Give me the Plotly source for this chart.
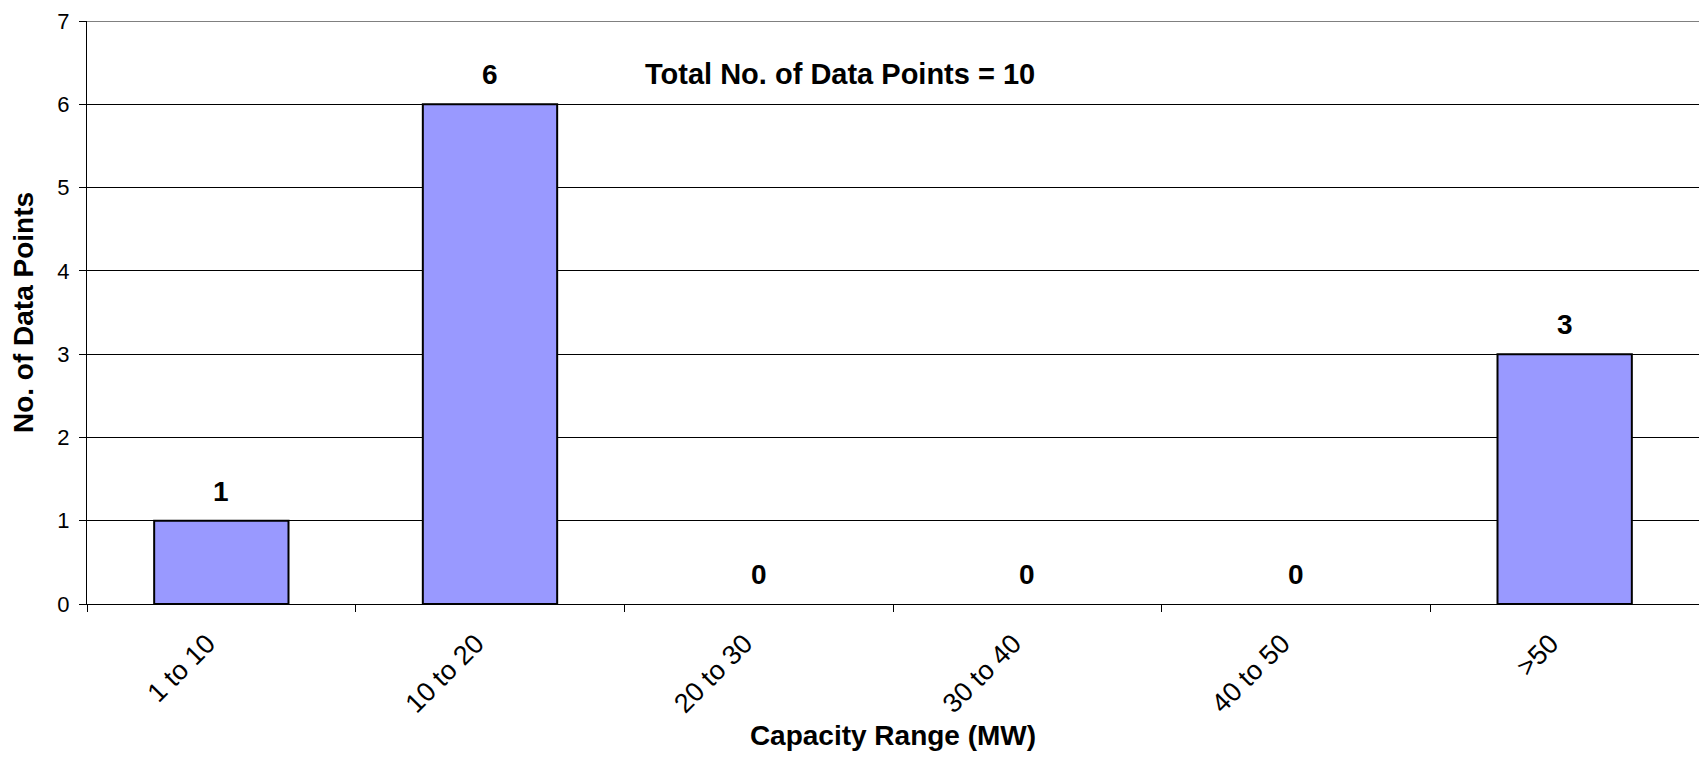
import plotly.graph_objects as go

categories = ['1 to 10', '10 to 20', '20 to 30', '30 to 40', '40 to 50', '>50']
counts = [1, 6, 0, 0, 0, 3]
total_text = 'Total No. of Data Points = ' + str(sum(counts))

FONT = 'Liberation Sans, Arial, sans-serif'

fig = go.Figure()

fig.add_trace(go.Bar(
    x=categories,
    y=counts,
    marker=dict(color='#9999FF',
                line=dict(color='black', width=[2 if v > 0 else 0 for v in counts])),
    hoverinfo='skip',
))

# value labels above the bars
for cat, val in zip(categories, counts):
    fig.add_annotation(
        x=cat, y=val, text=f'<b>{val}</b>',
        showarrow=False, yanchor='bottom', yshift=12,
        font=dict(family=FONT, size=28, color='black'),
    )

fig.add_annotation(
    x=0.467, xref='paper', y=6.36, yref='y',
    text=f'<b>{total_text}</b>', showarrow=False,
    font=dict(family=FONT, size=29, color='black'),
)

# plot-area top border
fig.add_shape(type='line', xref='paper', yref='y', x0=0, x1=1, y0=7, y1=7,
              line=dict(color='#808080', width=2), layer='above')

# page body has an 8px margin, so the figure is sized to fit the window
fig.update_layout(
    width=1691,
    height=743,
    margin=dict(l=79, r=0, t=13, b=147),
    paper_bgcolor='white',
    plot_bgcolor='white',
    bargap=0.5,
    showlegend=False,
    font=dict(family=FONT, color='black'),
    xaxis=dict(
        type='category',
        range=[-0.5, 5.5],
        automargin=False,
        tickangle=-45,
        tickfont=dict(size=27),
        ticks='outside',
        tickson='boundaries',
        ticklen=7,
        tickcolor='black',
        ticklabelshift=-14,
        ticklabelstandoff=12,
        showline=True,
        linecolor='black',
        linewidth=1,
        showgrid=False,
        title=dict(text='<b>Capacity Range (MW)</b>', font=dict(size=28), standoff=25),
    ),
    yaxis=dict(
        range=[0, 7],
        dtick=1,
        automargin=False,
        tickfont=dict(size=22),
        ticks='outside',
        ticklen=7,
        tickcolor='black',
        ticklabelstandoff=5,
        ticklabeloverflow='allow',
        showline=True,
        linecolor='black',
        linewidth=1,
        showgrid=True,
        gridcolor='black',
        gridwidth=1,
        zeroline=False,
        title=dict(text='<b>No. of Data Points</b>', font=dict(size=28), standoff=16),
    ),
)

fig.write_html('out.html')
